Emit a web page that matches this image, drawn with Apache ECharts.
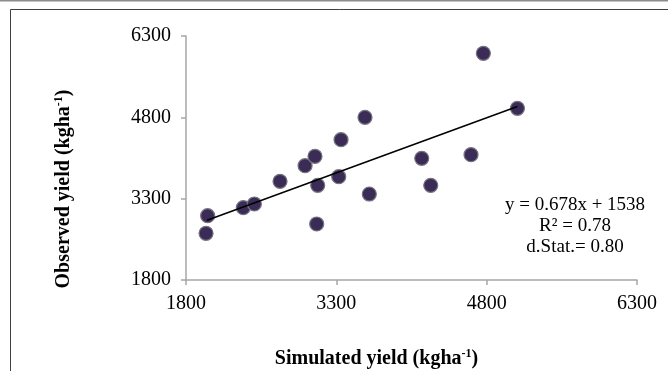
<!DOCTYPE html>
<html>
<head>
<meta charset="utf-8">
<script src="https://cdn.jsdelivr.net/npm/echarts@6/dist/echarts.min.js"></script>
<style>
  html, body { margin: 0; padding: 0; background: #fff; }
  #box { width: 668px; height: 371px; }
</style>
</head>
<body>
<div id="box"></div>
<script>
// simulated vs observed yield (kg/ha)
const simulated = [2016, 2000, 2372, 2482, 2738, 2988, 3087, 3114, 3104, 3324, 3347, 3586, 3629, 4152, 4242, 4644, 4767, 5107];
const observed  = [2986, 2661, 3134, 3202, 3620, 3908, 4081, 3546, 2833, 3705, 4388, 4800, 3386, 4044, 3546, 4111, 5981, 4967];
// ends of the fitted line
const trendX = [2010, 5107];
const trendY = [2901, 5001];
const ticks = [1800, 3300, 4800, 6300];
const statLines = ['y = 0.678x + 1538', 'R² = 0.78', 'd.Stat.= 0.80'];

const serif = '"Liberation Serif", "DejaVu Serif", serif';
const axisGray = '#a6a6a6';

const points = simulated.map((x, i) => [x, observed[i]]);
const trend = trendX.map((x, i) => [x, trendY[i]]);

const nameRich = {
    t: { fontFamily: serif, fontSize: 20, fontWeight: 'bold', color: '#000' },
    s: { fontFamily: serif, fontSize: 12, fontWeight: 'bold', color: '#000', verticalAlign: 'top', padding: [0, 0, 9, 0] }
};

const axisCommon = {
    type: 'value',
    min: ticks[0],
    max: ticks[ticks.length - 1],
    interval: 1500,
    splitLine: { show: false },
    axisLine: { show: true, lineStyle: { color: axisGray, width: 1.5 } },
    axisTick: { show: true, length: 5, lineStyle: { color: axisGray, width: 1.5 } },
    nameLocation: 'middle'
};

const labelStyle = { color: '#000', fontFamily: serif, fontSize: 20, formatter: v => String(v) };

var option = {
    animation: false,
    backgroundColor: '#fff',
    grid: { left: 186, right: 31, top: 36, bottom: 91, outerBoundsMode: 'none', containLabel: false },
    xAxis: Object.assign({}, axisCommon, {
        axisLabel: Object.assign({ margin: 14 }, labelStyle),
        name: '{t|Simulated yield (kgha}{s|-1}{t|)}',
        nameGap: 68,
        nameTextStyle: { padding: [0, 70, 0, 0], rich: nameRich }
    }),
    yAxis: Object.assign({}, axisCommon, {
        axisLabel: Object.assign({ margin: 15 }, labelStyle),
        name: '{t|Observed yield (kgha}{s|-1}{t|)}',
        nameGap: 112,
        nameTextStyle: { padding: [0, 62, 0, 0], rich: nameRich }
    }),
    series: [
        {
            type: 'scatter',
            data: points,
            symbolSize: 14,
            itemStyle: { color: '#3a2c56', borderColor: '#77737f', borderWidth: 1.2, opacity: 1 },
            z: 2
        },
        {
            type: 'line',
            data: trend,
            symbol: 'none',
            lineStyle: { color: '#000', width: 1.5 },
            z: 3
        }
    ],
    graphic: [
        { type: 'line', shape: { x1: 0, y1: 0.5, x2: 668, y2: 0.5 }, style: { stroke: '#8c8c8c', lineWidth: 2 } },
        { type: 'rect', shape: { x: 10.5, y: 9.5, width: 700, height: 400 }, style: { fill: null, stroke: '#404040', lineWidth: 1 }, silent: true },
        {
            type: 'text',
            x: 575,
            y: 195,
            style: {
                text: statLines.join('\n'),
                fontFamily: serif,
                fontSize: 19,
                lineHeight: 21,
                fill: '#000',
                align: 'center',
                verticalAlign: 'top'
            }
        }
    ]
};

var myChart = echarts.init(document.getElementById('box'));
option && myChart.setOption(option);
</script>
</body>
</html>
